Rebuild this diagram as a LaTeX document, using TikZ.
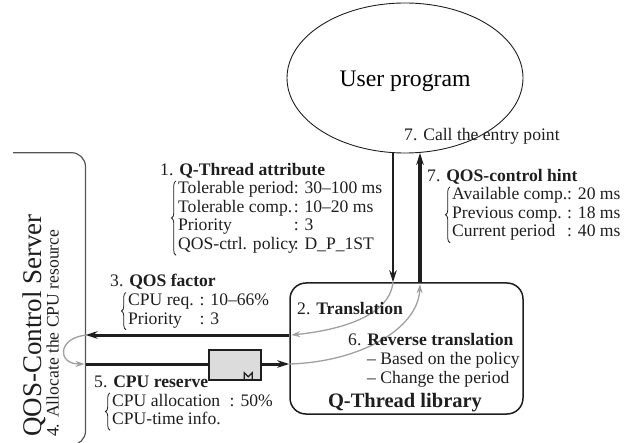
\documentclass[tikz,border=0pt]{standalone}
\usepackage{fontspec}
\setmainfont{Liberation Serif}
\usetikzlibrary{arrows.meta,decorations.pathreplacing,shapes.geometric,calc}
\definecolor{ink}{HTML}{1E1E1E}
\definecolor{curvegray}{HTML}{A0A0A0}
\definecolor{srvgray}{HTML}{555555}
\definecolor{resfill}{HTML}{DCDCDC}
\newlength{\colwd}
\begin{document}
\begin{tikzpicture}[x=1bp,y=-1bp,
  txt/.style={inner sep=0pt, anchor=base west, text=ink,
    font=\fontsize{17.6bp}{18.5bp}\selectfont},
  tbl/.style={txt},
  brc/.style={decorate, decoration={brace, amplitude=4.5bp}, line width=0.8bp, draw=ink},
  blk/.style={draw=ink, -{Stealth[length=12bp,width=7.5bp]}},
  gcurve/.style={draw=curvegray, line width=1.3bp, -{Stealth[length=9bp,width=6bp]}}
]
\useasboundingbox (0,0) rectangle (636,443);

% user program ellipse
\node[draw=ink, ellipse, line width=0.9bp, minimum width=236bp, minimum height=150bp,
  inner sep=0pt, text height=18bp, text depth=0bp,
  font=\fontsize{23.7bp}{26bp}\selectfont] (user) at (405,78) {User program};

% Q-Thread library box
\node[draw=ink, rounded corners=16bp, line width=1.5bp, minimum width=233bp,
  minimum height=131bp, inner sep=0pt] (lib) at (406.5,348.5) {};

% server bracket
\coordinate (srv) at (85.5,0);
\draw[draw=srvgray, line width=1.2bp, rounded corners=14bp]
  (13,152.7) -- (85.5,152.7) -- (85.5,445) -- (55,445);
\node[txt, rotate=90, font=\fontsize{27bp}{30bp}\selectfont] (srvname) at (41,437) {QOS-Control Server};
\node[txt, rotate=90] (alloc) at (58.5,437) {4. Allocate the CPU resource};

% vertical arrows
\coordinate (dn) at (393,0);
\coordinate (upx) at (420,0);
\draw[blk, line width=2bp] (dn |- user.south) -- (dn |- lib.north);
\draw[blk, line width=3.5bp] (upx |- lib.north) -- ($(upx |- user.south)+(0,-0.5)$);

% horizontal arrows
\draw[blk, line width=3bp] ([yshift=13.5bp]lib.west) -- ([yshift=13.5bp]lib.west -| srv);
\draw[blk, line width=3bp] ([yshift=-15.5bp]lib.west -| srv) -- ([yshift=-15.5bp]lib.west);

% reserve box
\node[draw=ink, fill=resfill, line width=1.5bp, minimum width=52bp, minimum height=30bp,
  inner sep=0pt] (res) at (235,365) {};
\draw[draw=ink, line width=1.3bp] ([xshift=36bp]res.south west) -- ++(0,-8) -- ++(4,4) -- ++(4,-4) -- ++(0,8);

% gray curves
\draw[gcurve] (dn |- lib.north) .. controls +(-4,37) and +(40,-4) .. ([yshift=13.5bp,xshift=2bp]lib.west);
\draw[gcurve] ([yshift=-15.5bp]lib.west) .. controls +(70,-2) and +(-2,45) .. ($(upx |- lib.north)+(0,2)$);
\draw[gcurve] ($([yshift=13.5bp]lib.west -| srv)+(2,0)$) .. controls +(-30,2) and +(-28,0) .. ($([yshift=-15.5bp]lib.west -| srv)+(-1,0)$);

% 7. call the entry point
\node[txt] (call) at (404,141) {7. Call the entry point};

% 1. Q-Thread attribute
\node[txt] (attrT) at (160,175.5) {1. \textbf{Q-Thread attribute}};
\node[tbl] (attr) at (178,194) {\settowidth{\colwd}{Tolerable period}\begin{tabular}[t]{@{}l@{}l@{}}
Tolerable period&: 30--100 ms\\
Tolerable comp.&: 10--20 ms\\
Priority&: 3\\
\makebox[\colwd][l]{QOS-ctrl. policy}&: D\_P\_1ST
\end{tabular}};
\draw[brc] ([xshift=-2bp]attr.south west) -- ([xshift=-2bp]attr.north west);

% 7. QOS-control hint
\node[txt] (hintT) at (427,182) {7. \textbf{QOS-control hint}};
\node[tbl] (hint) at (452,200) {\begin{tabular}[t]{@{}l@{}l@{}}
Available comp.&: 20 ms\\
Previous comp.&: 18 ms\\
Current period&: 40 ms
\end{tabular}};
\draw[brc] ([xshift=-2bp]hint.south west) -- ([xshift=-2bp]hint.north west);

% 3. QOS factor
\node[txt] (facT) at (110,287) {3. \textbf{QOS factor}};
\node[tbl] (fac) at (128,305.5) {\begin{tabular}[t]{@{}l@{\hspace{6bp}}l@{}}
CPU req.&: 10--66\%\\
Priority&: 3
\end{tabular}};
\draw[brc] ([xshift=-2bp]fac.south west) -- ([xshift=-2bp]fac.north west);

% 5. CPU reserve
\node[txt] (resT) at (94,387.5) {5. \textbf{CPU reserve}};
\node[tbl] (resv) at (112,406) {\begin{tabular}[t]{@{}l@{\hspace{9bp}}l@{}}
CPU allocation&: 50\%\\
CPU-time info.&
\end{tabular}};
\draw[brc] ([xshift=-2bp]resv.south west) -- ([xshift=-2bp]resv.north west);

% library texts
\node[txt] (trans) at (297,315) {2. \textbf{Translation}};
\node[txt] (rev) at (348,345) {6. \textbf{Reverse translation}};
\node[txt] (pol) at (367,364) {-- Based on the policy};
\node[txt] (per) at (367,383) {-- Change the period};
\node[txt, anchor=base, font=\bfseries\fontsize{20.5bp}{22bp}\selectfont] (libname) at (405,407.5) {Q-Thread library};
\end{tikzpicture}
\end{document}
